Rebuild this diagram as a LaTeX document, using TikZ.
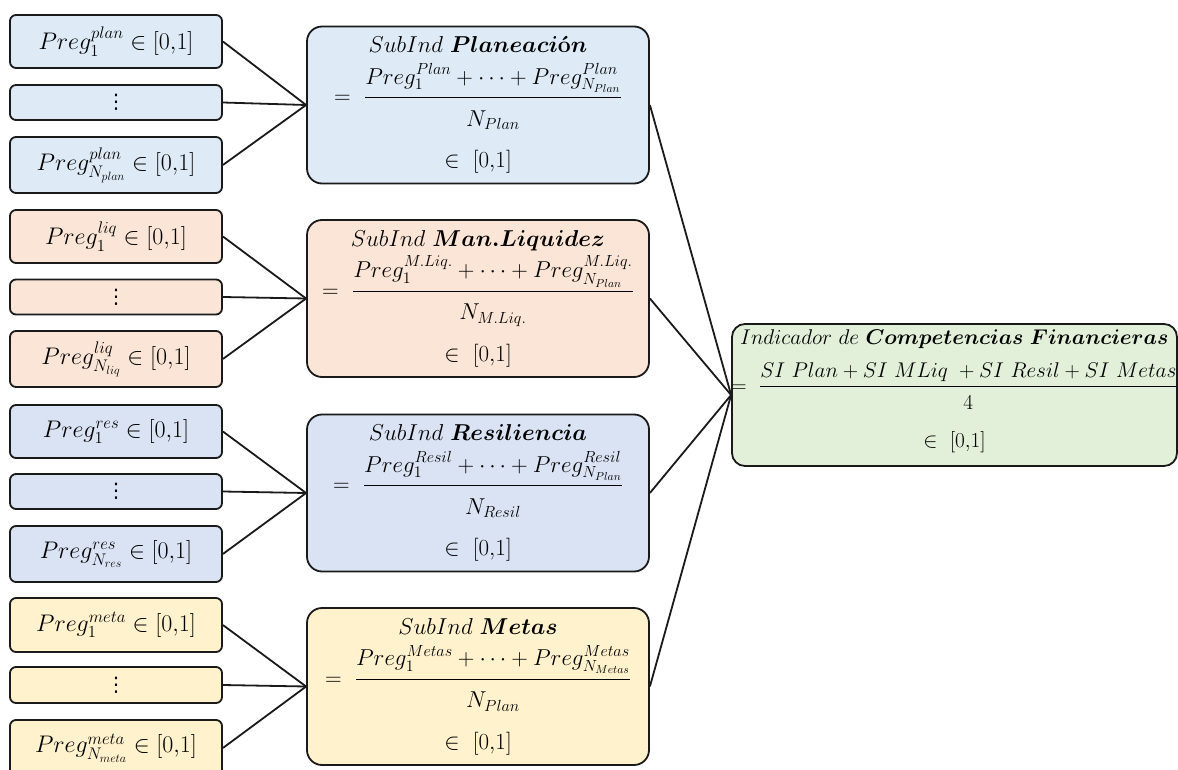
\RequirePackage{fix-cm}
\documentclass[tikz,border=0pt]{standalone}
\usepackage{amsmath,bm}
\usepackage{fontspec}
\newfontfamily\dvsans{DejaVu Sans}
\definecolor{cPlan}{HTML}{DEEBF7}
\definecolor{cLiq}{HTML}{FBE5D6}
\definecolor{cRes}{HTML}{DAE3F3}
\definecolor{cMeta}{HTML}{FFF2CC}
\definecolor{cInd}{HTML}{E2F0D9}
\definecolor{edge}{HTML}{1A1A1A}
\newcommand\mydots{{\dvsans\fontsize{20}{22}\selectfont ⋮}}
\newcommand\upnum[2][4pt]{\raisebox{#1}{$\displaystyle #2$}}
\newcommand\dnden[2][-7pt]{\raisebox{#1}{$#2$}}
\tikzset{
  leaf/.style={draw=edge, line width=1.8pt, rounded corners=6pt, minimum width=212pt,
    inner sep=0pt, font=\fontsize{24}{27}\selectfont},
  subbox/.style={draw=edge, line width=1.8pt, rounded corners=15pt, minimum width=342pt,
    minimum height=157pt, inner sep=0pt},
  indbox/.style={draw=edge, line width=1.8pt, rounded corners=13pt, minimum width=445pt,
    minimum height=142pt, inner sep=0pt},
  txt/.style={anchor=base, inner sep=0pt, font=\fontsize{23}{26}\selectfont},
  itxt/.style={anchor=base, inner sep=0pt, font=\fontsize{21.3}{24}\selectfont},
  link/.style={draw=edge, line width=1.8pt}
}
\begin{document}
\begin{tikzpicture}[x=1pt,y=-1pt]
\useasboundingbox (0,0) rectangle (1178,770);
\fill[white] (0,0) rectangle (1178,770);

% ---------- group 1: planeacion
\node[leaf, fill=cPlan, minimum height=53pt] (a1) at (116,41.5) {$Preg_1^{plan}\in[0{,}1]$};
\node[leaf, fill=cPlan, minimum height=35pt] (a2) at (116,102.5) {\mydots};
\node[leaf, fill=cPlan, minimum height=56pt] (a3) at (116,165) {$Preg_{N_{plan}}^{plan}\in[0{,}1]$};
\node[subbox, fill=cPlan] (sa) at (478,105) {};
\node[txt] (sa-t) at ([yshift=-27pt]sa.north) {$SubInd\ \bm{Planeaci}\text{\textbf{ó}}\bm{n}$};
\node[txt] (sa-f) at ([yshift=-78pt]sa.north) {$=\ \dfrac{\upnum{Preg_1^{Plan}+\cdots+Preg_{N_{Plan}}^{Plan}}}{\dnden{N_{Plan}}}$};
\node[txt] (sa-r) at ([yshift=-142pt]sa.north) {$\in\ [0{,}1]$};

% ---------- group 2: manejo liquidez
\node[leaf, fill=cLiq, minimum height=53pt] (b1) at (116,236.5) {$Preg_1^{liq}\in[0{,}1]$};
\node[leaf, fill=cLiq, minimum height=35pt] (b2) at (116,297) {\mydots};
\node[leaf, fill=cLiq, minimum height=56pt] (b3) at (116,359) {$Preg_{N_{liq}}^{liq}\in[0{,}1]$};
\node[subbox, fill=cLiq] (sb) at (478,298.5) {};
\node[txt] (sb-t) at ([yshift=-27pt]sb.north) {$SubInd\ \bm{Man.Liquidez}$};
\node[txt] (sb-f) at ([yshift=-78pt]sb.north) {$=\ \dfrac{\upnum{Preg_1^{M.Liq.}+\cdots+Preg_{N_{Plan}}^{M.Liq.}}}{\dnden{N_{M.Liq.}}}$};
\node[txt] (sb-r) at ([yshift=-142pt]sb.north) {$\in\ [0{,}1]$};

% ---------- group 3: resiliencia
\node[leaf, fill=cRes, minimum height=53pt] (c1) at (116,431.5) {$Preg_1^{res}\in[0{,}1]$};
\node[leaf, fill=cRes, minimum height=35pt] (c2) at (116,491.5) {\mydots};
\node[leaf, fill=cRes, minimum height=56pt] (c3) at (116,554) {$Preg_{N_{res}}^{res}\in[0{,}1]$};
\node[subbox, fill=cRes] (sc) at (478,493) {};
\node[txt] (sc-t) at ([yshift=-27pt]sc.north) {$SubInd\ \bm{Resiliencia}$};
\node[txt] (sc-f) at ([yshift=-78pt]sc.north) {$=\ \dfrac{\upnum{Preg_1^{Resil}+\cdots+Preg_{N_{Plan}}^{Resil}}}{\dnden{N_{Resil}}}$};
\node[txt] (sc-r) at ([yshift=-142pt]sc.north) {$\in\ [0{,}1]$};

% ---------- group 4: metas
\node[leaf, fill=cMeta, minimum height=54pt] (d1) at (116,625) {$Preg_1^{meta}\in[0{,}1]$};
\node[leaf, fill=cMeta, minimum height=36pt] (d2) at (116,685) {\mydots};
\node[leaf, fill=cMeta, minimum height=56pt] (d3) at (116,748) {$Preg_{N_{meta}}^{meta}\in[0{,}1]$};
\node[subbox, fill=cMeta] (sd) at (478,686.5) {};
\node[txt] (sd-t) at ([yshift=-27pt]sd.north) {$SubInd\ \bm{Metas}$};
\node[txt] (sd-f) at ([yshift=-78pt]sd.north) {$=\ \dfrac{\upnum{Preg_1^{Metas}+\cdots+Preg_{N_{Metas}}^{Metas}}}{\dnden{N_{Plan}}}$};
\node[txt] (sd-r) at ([yshift=-142pt]sd.north) {$\in\ [0{,}1]$};

% ---------- final indicator
\node[indbox, fill=cInd] (ind) at (954.5,395) {};
\node[itxt] (ind-t) at ([yshift=-21pt]ind.north) {$Indicador\ de\ \bm{Competencias\ Financieras}$};
\node[itxt] (ind-f) at ([yshift=-69pt]ind.north) {$=\ \dfrac{SI\ Plan+SI\ MLiq\ +SI\ Resil+SI\ Metas}{\dnden[-3pt]{4}}$};
\node[itxt] (ind-r) at ([yshift=-124pt]ind.north) {$\in\ [0{,}1]$};

% ---------- connectors
\foreach \g in {a,b,c,d}{
  \foreach \i in {1,2,3}{
    \draw[link] (\g\i.east) -- (s\g.west);
  }
  \draw[link] (s\g.east) -- (ind.west);
}
\end{tikzpicture}
\end{document}
